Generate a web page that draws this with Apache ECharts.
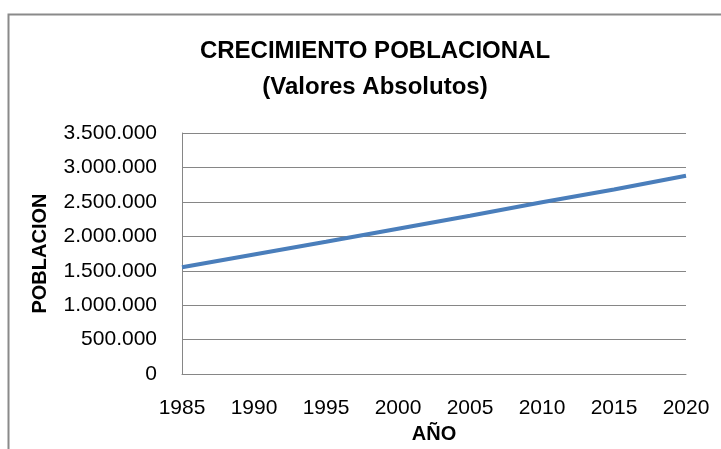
<!DOCTYPE html>
<html>
<head>
<meta charset="utf-8">
<script src="https://cdn.jsdelivr.net/npm/echarts@6/dist/echarts.min.js"></script>
<style>html,body{margin:0;padding:0;background:#fff}#c{width:721px;height:449px}</style>
</head>
<body>
<div id="c"></div>
<script>
const years = [1985, 1990, 1995, 2000, 2005, 2010, 2015, 2020];
const poblacion = [1550000, 1735000, 1920000, 2110000, 2300000, 2495000, 2680000, 2880000];
const titleLines = ['CRECIMIENTO POBLACIONAL', '(Valores Absolutos)'];
const xName = 'AÑO';
const yName = 'POBLACION';

function fmt(v) {
  return String(v).replace(/\B(?=(\d{3})+(?!\d))/g, '.');
}

const chart = echarts.init(document.getElementById('c'));
chart.setOption({
  animation: false,
  backgroundColor: '#fff',
  graphic: [{
    type: 'rect', left: 6, top: 12,
    shape: { width: 800, height: 500 },
    style: { fill: 'none', stroke: '#8a8a8a', lineWidth: 2 }
  }],
  title: {
    text: titleLines.join('\n'),
    left: 370, top: 28, textAlign: 'center',
    textStyle: { fontFamily: 'Liberation Sans', fontWeight: 'bold', fontSize: 24, lineHeight: 36, color: '#000' }
  },
  grid: { left: 182, right: 35, top: 133, bottom: 72 },
  xAxis: {
    type: 'value', min: 1985, max: 2020, interval: 5,
    name: xName, nameLocation: 'middle', nameGap: 49,
    nameTextStyle: { fontFamily: 'Liberation Sans', fontWeight: 'bold', fontSize: 20, color: '#000' },
    axisLine: { show: true, lineStyle: { color: '#868686', width: 1 } },
    axisTick: { show: false },
    splitLine: { show: false },
    axisLabel: { margin: 24, fontFamily: 'Liberation Sans', fontSize: 21, color: '#000', formatter: v => String(v) }
  },
  yAxis: {
    type: 'value', min: 0, max: 3500000, interval: 500000,
    name: yName, nameLocation: 'middle', nameGap: 132,
    nameTextStyle: { fontFamily: 'Liberation Sans', fontWeight: 'bold', fontSize: 20, color: '#000' },
    axisLine: { show: true, lineStyle: { color: '#868686', width: 1 } },
    axisTick: { show: false },
    splitLine: { show: true, lineStyle: { color: '#868686', width: 1 } },
    axisLabel: { margin: 25, fontFamily: 'Liberation Sans', fontSize: 21, color: '#000', formatter: fmt }
  },
  series: [{
    type: 'line',
    data: years.map((y, i) => [y, poblacion[i]]),
    symbol: 'none',
    lineStyle: { color: '#4a7ebb', width: 4 },
    itemStyle: { color: '#4a7ebb' }
  }]
});
</script>
</body>
</html>
